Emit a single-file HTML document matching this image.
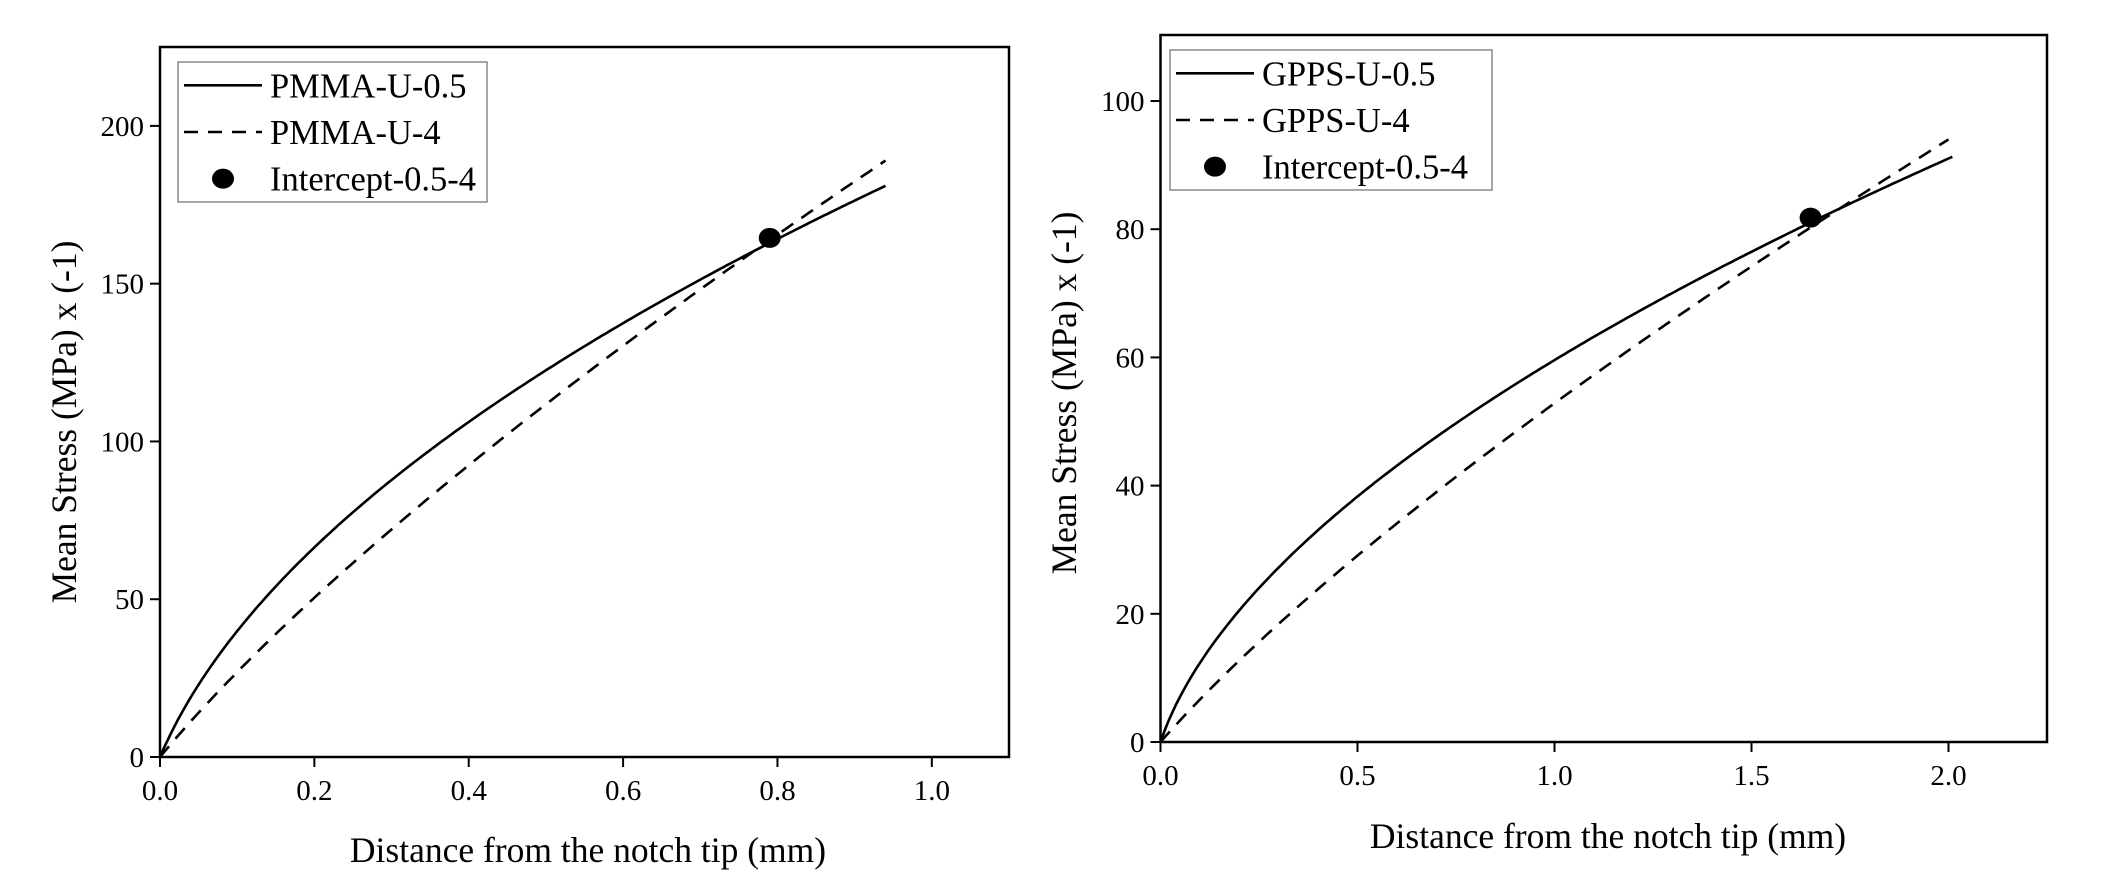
<!DOCTYPE html>
<html><head><meta charset="utf-8"><style>
html,body{margin:0;padding:0;background:#fff;}
svg{display:block;font-family:"Liberation Serif",serif;}
</style></head><body>
<svg id="s" width="2106" height="894" viewBox="0 0 2106 894" xmlns="http://www.w3.org/2000/svg">
<rect width="2106" height="894" fill="#fff"/>
</svg>
<script>
const NS="http://www.w3.org/2000/svg",S=document.getElementById('s');
function el(t,a,txt){const e=document.createElementNS(NS,t);for(const k in a)e.setAttribute(k,a[k]);if(txt!=null)e.textContent=txt;S.appendChild(e);return e;}
function plot(c){
 const X=v=>c.x0+(v)/c.xmax*(c.x1-c.x0), Y=v=>c.y0-(v)/c.ymax*(c.y0-c.y1);
 function curve(s,dash){const [end,endY,p,cc]=s;const f=x=>Math.pow(x+cc,p)-Math.pow(cc,p);const k=endY/f(end);let d='';
  for(let i=0;i<=200;i++){const x=end*i/200;const y=k*f(x);d+=(i?'L':'M')+X(x).toFixed(1)+','+Y(y).toFixed(1);}
  el('path',{d:d,fill:'none',stroke:'#000','stroke-width':2.6,'stroke-dasharray':dash||'none'});}
 curve(c.s);
 curve(c.d,'14 10');
 el('ellipse',{cx:X(c.pt[0]),cy:Y(c.pt[1]),rx:11,ry:10,fill:'#000'});
 el('rect',{x:c.x0,y:c.y1,width:c.x1-c.x0,height:c.y0-c.y1,fill:'none',stroke:'#000','stroke-width':2.5});
 c.xt.forEach(v=>{const x=X(v);el('line',{x1:x,y1:c.y0,x2:x,y2:c.y0+10,stroke:'#000','stroke-width':2});
  el('text',{x:x,y:c.y0+43,'font-size':29,'text-anchor':'middle'},v.toFixed(1));});
 c.yt.forEach(v=>{const y=Y(v);el('line',{x1:c.x0,y1:y,x2:c.x0-10,y2:y,stroke:'#000','stroke-width':2});
  el('text',{x:c.x0-16,y:y+10,'font-size':29,'text-anchor':'end'},String(v));});
 el('text',{x:c.xl[0],y:c.xl[1],'font-size':35.5,'text-anchor':'middle'},'Distance from the notch tip (mm)');
 el('text',{x:0,y:0,'font-size':35.5,'text-anchor':'middle',transform:`translate(${c.yl[0]},${c.yl[1]}) rotate(-90)`},'Mean Stress (MPa) x (-1)');
 const L=c.lg;
 el('rect',{x:L[0],y:L[1],width:L[2]-L[0],height:L[3]-L[1],fill:'#fff',stroke:'#888','stroke-width':1.5});
 const rh=(L[3]-L[1])/3;
 for(let i=0;i<3;i++){const cy=L[1]+rh*(i+0.5);
  if(i<2)el('line',{x1:L[0]+6,y1:cy,x2:L[0]+84,y2:cy,stroke:'#000','stroke-width':2.6,'stroke-dasharray':i?'14 10':'none'});
  else el('ellipse',{cx:L[0]+45,cy:cy,rx:11,ry:10,fill:'#000'});
  el('text',{x:L[0]+92,y:cy+12,'font-size':34.5},c.names[i]);}
}
plot({x0:160,x1:1009,y0:757,y1:47,xmax:1.1,ymax:225,xt:[0,0.2,0.4,0.6,0.8,1.0],yt:[0,50,100,150,200],
 s:[0.94,181,0.5,0.04],d:[0.94,189,0.75,0.1],pt:[0.79,164.5],xl:[588,862],yl:[76,422],lg:[178,62,487,202],
 names:['PMMA-U-0.5','PMMA-U-4','Intercept-0.5-4']});
plot({x0:1160.5,x1:2047,y0:742,y1:35,xmax:2.25,ymax:110.3,xt:[0,0.5,1.0,1.5,2.0],yt:[0,20,40,60,80,100],
 s:[2.01,91.3,0.55,0.03],d:[2.0,94,0.75,0.2],pt:[1.65,81.8],xl:[1608,848],yl:[1076,393],lg:[1170,50,1492,190],
 names:['GPPS-U-0.5','GPPS-U-4','Intercept-0.5-4']});
</script>
</body></html>
